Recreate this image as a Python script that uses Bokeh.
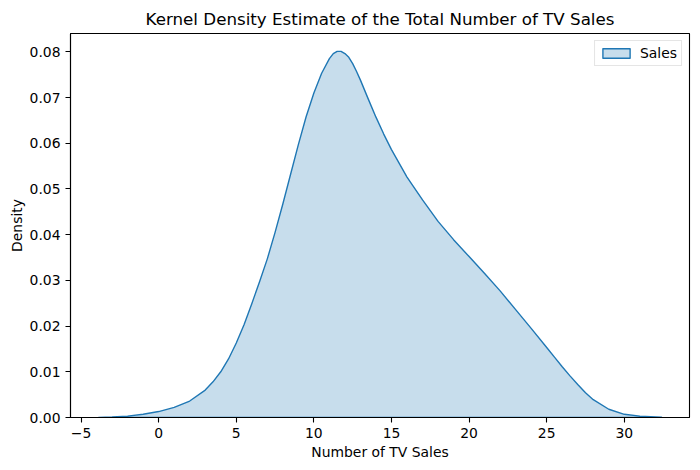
from bokeh.plotting import figure
from bokeh.models import Range1d, FixedTicker, PrintfTickFormatter, ColumnDataSource
from bokeh.embed import file_html
from bokeh.resources import INLINE

# Data
sales_x = [-3.87, -3.0, -2.0, -1.0, 0.0, 1.0, 2.0, 3.0, 3.5, 4.0, 4.5, 5.0, 5.5, 6.0,
           6.5, 7.0, 7.5, 8.0, 8.5, 9.0, 9.5, 10.0, 10.5, 11.0, 11.25, 11.5, 11.75,
           12.0, 12.25, 12.5, 12.75, 13.0, 13.5, 14.0, 14.5, 15.0, 16.0, 17.0, 18.0,
           19.0, 20.0, 21.0, 22.0, 23.0, 24.0, 25.0, 25.5, 26.0, 26.5, 27.0, 27.5,
           28.0, 29.0, 30.0, 31.0, 32.4]
density = [0.00003, 0.0001, 0.0003, 0.0007, 0.0013, 0.0022, 0.0036, 0.0060, 0.0078,
           0.0100, 0.0128, 0.0163, 0.0203, 0.0249, 0.0297, 0.0347, 0.0405, 0.0467,
           0.0532, 0.0597, 0.0658, 0.0710, 0.0753, 0.0785, 0.0796, 0.0801, 0.0801,
           0.0796, 0.0788, 0.0774, 0.0757, 0.0738, 0.0697, 0.0657, 0.0620, 0.0586,
           0.0526, 0.0476, 0.0429, 0.0389, 0.0352, 0.0315, 0.0277, 0.0236, 0.0195,
           0.0153, 0.0132, 0.0111, 0.0091, 0.0072, 0.0054, 0.0039, 0.0018, 0.0007,
           0.0003, 0.00005]
x_ticks = [-5, 0, 5, 10, 15, 20, 25, 30]
y_ticks = [0.0, 0.01, 0.02, 0.03, 0.04, 0.05, 0.06, 0.07, 0.08]
series_name = "Sales"
title_text = "Kernel Density Estimate of the Total Number of TV Sales"
x_label = "Number of TV Sales"
y_label = "Density"

FONT = "DejaVu Sans"
C0 = "#1f77b4"

p = figure(frame_width=619, frame_height=384, output_backend="svg", toolbar_location=None,
           x_range=Range1d(-5.68, 34.2), y_range=Range1d(0, 0.084),
           min_border_left=70, min_border_right=8, min_border_top=33, min_border_bottom=50,
           title=title_text)
p.background_fill_color = "white"
p.border_fill_color = "white"
p.xgrid.visible = False
p.ygrid.visible = False
p.outline_line_color = "black"
p.outline_line_width = 1.1

p.title.align = "center"
p.title.text_font = FONT
p.title.text_font_size = "16.7px"
p.title.text_font_style = "normal"
p.title.text_color = "black"

src = ColumnDataSource(dict(x=[sales_x[0]] + sales_x + [sales_x[-1]],
                            y=[0.0] + density + [0.0]))
p.patch("x", "y", source=src, fill_color=C0, fill_alpha=0.25,
        line_color=C0, line_width=1.4, line_join="round", legend_label=series_name)

for ax in (p.xaxis[0], p.yaxis[0]):
    ax.axis_line_color = "black"
    ax.axis_line_width = 1.1
    ax.major_tick_line_color = "black"
    ax.major_tick_line_width = 1.1
    ax.major_tick_out = 5
    ax.major_tick_in = 0
    ax.minor_tick_line_color = None
    ax.major_label_standoff = 5
    ax.major_label_text_font = FONT
    ax.major_label_text_font_size = "13.9px"
    ax.major_label_text_color = "black"
    ax.axis_label_text_font = FONT
    ax.axis_label_text_font_size = "13.9px"
    ax.axis_label_text_font_style = "normal"
    ax.axis_label_text_color = "black"

p.xaxis.ticker = FixedTicker(ticks=x_ticks)
p.xaxis.major_label_overrides = {-5: "\u22125"}
p.yaxis.ticker = FixedTicker(ticks=y_ticks)
p.yaxis.formatter = PrintfTickFormatter(format="%.2f")
p.xaxis.axis_label = x_label
p.yaxis.axis_label = y_label
p.xaxis.axis_label_standoff = 3
p.yaxis.axis_label_standoff = 2

lg = p.legend[0]
lg.location = "top_right"
lg.margin = 7
lg.padding = 4
lg.spacing = 0
lg.glyph_width = 34
lg.glyph_height = 12
lg.label_standoff = 7
lg.label_text_font = FONT
lg.label_text_font_size = "13.9px"
lg.label_text_color = "black"
lg.border_line_color = "#cccccc"
lg.border_line_width = 1
lg.background_fill_color = "white"
lg.background_fill_alpha = 0.8

open("out.html", "w").write(file_html(p, INLINE))
